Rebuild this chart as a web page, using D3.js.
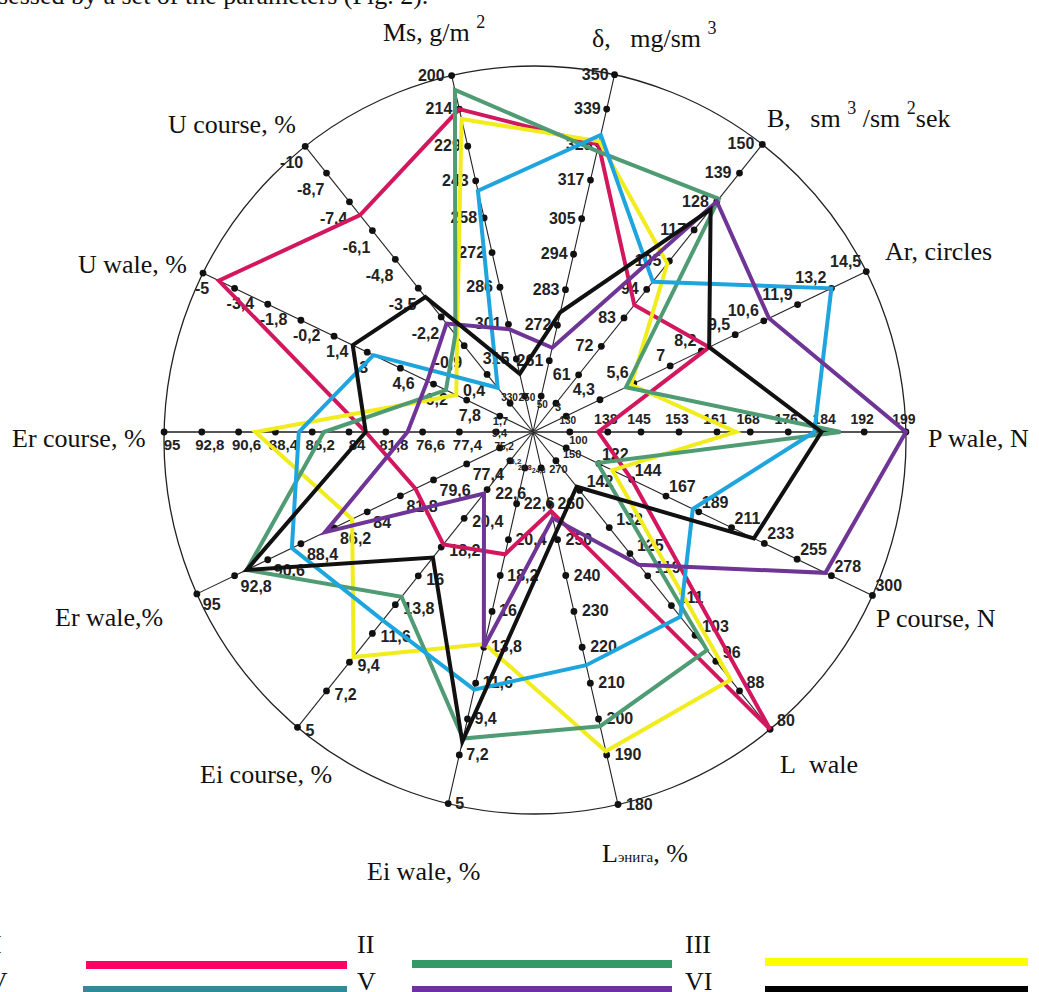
<!DOCTYPE html>
<html>
<head>
<meta charset="utf-8">
<script src="https://cdn.jsdelivr.net/npm/d3@7"></script>
<style>
  body { margin: 0; background: #fff; }
  svg { display: block; }
  .tick-label { font-family: "Liberation Sans", Arial, sans-serif; font-weight: bold; fill: #222; }
  .title { font-family: "Liberation Serif", "Times New Roman", serif; fill: #111; white-space: pre; }
</style>
</head>
<body>
<div id="chart"></div>
<script>
(function () {

  // axes, clockwise from Ms
  var axisNames = ["Ms", "delta", "B", "Ar", "P wale", "P course", "L wale", "L enyga",
                   "Ei wale", "Ei course", "Er wale", "Er course", "U wale", "U course"]

  // tick labels, outer ring first, centre last
  var ticksMs = ["200", "214", "229", "243", "258", "272", "286", "301", "315", "330"]
  var ticksDelta = ["350", "339", "328", "317", "305", "294", "283", "272", "261", "250"]
  var ticksB = ["150", "139", "128", "117", "105", "94", "83", "72", "61", "50"]
  var ticksAr = ["14,5", "13,2", "11,9", "10,6", "9,5", "8,2", "7", "5,6", "4,3", "3"]
  var ticksPwale = ["199", "192", "184", "176", "168", "161", "153", "145", "138", "130"]
  var ticksPcourse = ["300", "278", "255", "233", "211", "189", "167", "144", "122", "100"]
  var ticksLwale = ["80", "88", "96", "103", "111", "119", "125", "132", "142", "150"]
  var ticksLenyga = ["180", "190", "200", "210", "220", "230", "240", "250", "260", "270"]
  var ticksEiwale = ["5", "7,2", "9,4", "11,6", "13,8", "16", "18,2", "20,4", "22,6", "24,8"]
  var ticksEicourse = ["5", "7,2", "9,4", "11,6", "13,8", "16", "18,2", "20,4", "22,6", "24,8"]
  var ticksErwale = ["95", "92,8", "90,6", "88,4", "86,2", "84", "81,8", "79,6", "77,4", "75,2"]
  var ticksErcourse = ["95", "92,8", "90,6", "88,4", "86,2", "84", "81,8", "76,6", "77,4", "75,2"]
  var ticksUwale = ["-5", "-3,4", "-1,8", "-0,2", "1,4", "3", "4,6", "6,2", "7,8", "9,4"]
  var ticksUcourse = ["-10", "-8,7", "-7,4", "-6,1", "-4,8", "-3,5", "-2,2", "-0,9", "0,4", "1,7"]

  // scale ends per axis: [centre-most tick, second tick, outer tick]
  var scaleStops = [
    [330, 214, 200], [250, 339, 350], [50, 139, 150], [3, 13.2, 14.5],
    [130, 192, 199], [100, 278, 300], [150, 88, 80], [270, 190, 180],
    [24.8, 7.2, 5], [24.8, 7.2, 5], [75.2, 92.8, 95], [75.2, 92.8, 95],
    [9.4, -3.4, -5], [1.7, -8.7, -10]
  ]

  var seriesNames = ["I", "II", "III", "IV", "V", "VI"]
  var series1 = [214, 328, 88, 8.5, 136, 144, 80, 258, 19.5, 18.4, 80.8, 83, -4.2, -6.8]
  var series2 = [206, 326, 129, 5.3, 187, 121, 99, 198, 8.2, 14.4, 92, 85.5, 6.8, -1.4]
  var series3 = [218, 329, 104, 5.5, 165, 131, 91, 191, 14, 9.8, 85, 89.6, 7.3, -1.3]
  var series4 = [247, 331, 97, 13.2, 181.5, 185, 108, 215, 11.2, 12.6, 89, 87, 3.3, 1.0]
  var series5 = [303, 265, 128, 10.8, 199, 274, 122, 256, 13.8, 22.3, 86.8, 80.5, 5.9, -1.9]
  var series6 = [321, 276, 125, 8.5, 183, 226, 143, 252, 8.0, 17.4, 92, 83, 2.3, -3.1]

  var tickLists = [ticksMs, ticksDelta, ticksB, ticksAr, ticksPwale, ticksPcourse, ticksLwale,
                   ticksLenyga, ticksEiwale, ticksEicourse, ticksErwale, ticksErcourse, ticksUwale, ticksUcourse]
  var seriesValues = [series1, series2, series3, series4, series5, series6]

  var lineColors = ["#d3175e", "#4f9b74", "#f1ec1c", "#1fa5de", "#6e3496", "#111111"]
  var legendColors = ["#ff0066", "#339966", "#ffff00", "#338899", "#7030a0", "#000000"]
  var drawOrder = [0, 2, 1, 3, 4, 5]

  // ---- layout ----
  var width = 1039, height = 992
  var hub = [533, 432]
  var ring = { cx: 535, cy: 440, rx: 371, ry: 374 }
  var step = 36.8

  // label placement per axis: dx, dy, anchor, size, size of centre label
  var labelPos = [
    [-7, 5, "end", 16, 10], [-6, 5, "end", 16, 10], [-8, 5, "end", 16, 10], [-5, -5, "end", 16, 11],
    [-2, -8, "middle", 14, 10], [3, -4, "start", 16, 11], [7, -3, "start", 16, 11], [8, 5, "start", 16, 11],
    [7, 5, "start", 16, 7], [8, 9, "start", 16, 7], [6, 16, "start", 16, 8], [8, 18, "middle", 15, 10],
    [-8, 21, "start", 16, 11], [-2, 22, "end", 16, 11]
  ]

  var nb = "\u00a0"
  var titleParts = [
    [["Ms, g/m" + nb, "n"], ["2", "s"]],
    [["δ," + nb + nb + " mg/sm" + nb, "n"], ["3", "s"]],
    [["B," + nb + nb + " sm" + nb, "n"], ["3", "s"], [nb + "/sm" + nb, "n"], ["2", "s"], ["sek", "n"]],
    [["Ar, circles", "n"]],
    [["P wale, N", "n"]],
    [["P course, N", "n"]],
    [["L" + nb + nb + "wale", "n"]],
    [["L", "n"], ["энига", "m"], [", %", "n"]],
    [["Ei wale, %", "n"]],
    [["Ei course, %", "n"]],
    [["Er wale,%", "n"]],
    [["Er course, %", "n"]],
    [["U wale, %", "n"]],
    [["U course, %", "n"]]
  ]
  var titleXY = [[383, 41], [592, 47], [767, 127], [885, 260], [928, 447], [876, 627], [780, 773],
                 [602, 862], [367, 880], [200, 783], [55, 626], [12, 447], [78, 273], [168, 133]]

  var svg = d3.select("#chart").append("svg")
    .attr("width", width)
    .attr("height", height)

  // cut-off line of body text above the figure
  svg.append("text")
    .attr("class", "title")
    .attr("x", -2)
    .attr("y", 4)
    .attr("font-size", 26)
    .text("sessed by a set of the parameters (Fig. 2).")

  var angleScale = d3.scaleLinear()
    .domain([0, axisNames.length])
    .range([-Math.PI / axisNames.length, 2 * Math.PI - Math.PI / axisNames.length])

  // distance from hub to the outer ring along an angle
  function axisLength(a) {
    var ux = Math.sin(a), uy = -Math.cos(a)
    var dx = hub[0] - ring.cx, dy = hub[1] - ring.cy
    var rx2 = ring.rx * ring.rx, ry2 = ring.ry * ring.ry
    var A = ux * ux / rx2 + uy * uy / ry2
    var B = 2 * (dx * ux / rx2 + dy * uy / ry2)
    var C = dx * dx / rx2 + dy * dy / ry2 - 1
    return (-B + Math.sqrt(B * B - 4 * A * C)) / (2 * A)
  }

  var axes = axisNames.map(function (name, i) {
    var a = angleScale(i)
    var len = axisLength(a)
    var stops = scaleStops[i]
    return {
      name: name,
      angle: a,
      length: len,
      scale: d3.scaleLinear().domain(stops).range([step, 9 * step, len])
    }
  })

  svg.append("ellipse")
    .attr("cx", ring.cx)
    .attr("cy", ring.cy)
    .attr("rx", ring.rx)
    .attr("ry", ring.ry)
    .attr("fill", "none")
    .attr("stroke", "#222")
    .attr("stroke-width", 1.3)

  var g = svg.append("g")
    .attr("transform", "translate(" + hub[0] + "," + hub[1] + ")")

  function px(a, r) { return Math.sin(a) * r }
  function py(a, r) { return -Math.cos(a) * r }

  g.selectAll(".axis-line")
    .data(axes)
    .enter().append("line")
    .attr("class", "axis-line")
    .attr("x1", 0).attr("y1", 0)
    .attr("x2", function (d) { return px(d.angle, d.length) })
    .attr("y2", function (d) { return py(d.angle, d.length) })
    .attr("stroke", function (d, i) { return (i === 4 || i === 11) ? "#555" : "#222" })
    .attr("stroke-width", function (d, i) { return (i === 4 || i === 11) ? 2.2 : 1.1 })

  // ticks: dot + label
  axes.forEach(function (ax, i) {
    var ticks = tickLists[i].map(function (lab, k) {
      var v = parseFloat(lab.replace(",", "."))
      // the printed "76,6" sits at the 79,6 position
      var r = (k === 0) ? ax.length : ax.scale(k === 7 && i === 11 ? 79.6 : v)
      return { label: lab, k: k, x: px(ax.angle, r), y: py(ax.angle, r) }
    })
    var lp = labelPos[i]

    g.selectAll(".dot-" + i)
      .data(ticks)
      .enter().append("circle")
      .attr("class", "dot-" + i)
      .attr("cx", function (d) { return d.x })
      .attr("cy", function (d) { return d.y })
      .attr("r", 3.4)
      .attr("fill", "#111")

    g.selectAll(".lab-" + i)
      .data(ticks)
      .enter().append("text")
      .attr("class", "tick-label lab-" + i)
      .attr("x", function (d) { return d.x + lp[0] })
      .attr("y", function (d) { return d.y + lp[1] })
      .attr("text-anchor", lp[2])
      .attr("font-size", function (d) { return d.k === 9 ? lp[4] : lp[3] })
      .text(function (d) { return d.label })
  })

  // series polygons
  var radial = d3.lineRadial()
    .angle(function (d, i) { return axes[i].angle })
    .radius(function (d, i) { return axes[i].scale(d) })
    .curve(d3.curveLinearClosed)

  g.selectAll(".series")
    .data(drawOrder)
    .enter().append("path")
    .attr("class", "series")
    .attr("d", function (s) { return radial(seriesValues[s]) })
    .attr("fill", "none")
    .attr("stroke", function (s) { return lineColors[s] })
    .attr("stroke-width", 4)
    .attr("stroke-linejoin", "miter")

  // axis titles
  axes.forEach(function (ax, i) {
    var t = svg.append("text")
      .attr("class", "title")
      .attr("x", titleXY[i][0])
      .attr("y", titleXY[i][1])
      .attr("font-size", 26)
    var shift = 0
    titleParts[i].forEach(function (p) {
      var span = t.append("tspan").text(p[0])
      if (p[1] === "s") {
        span.attr("dy", -13 - shift).attr("font-size", 18)
        shift = -13
      } else if (p[1] === "m") {
        span.attr("dy", -shift).attr("font-size", 15)
        shift = 0
      } else {
        span.attr("dy", -shift)
        shift = 0
      }
    })
  })

  // legend
  var legendLabelX = [-7, 357, 685, -20, 357, 685]
  var legendLabelY = [953, 953, 953, 990, 990, 990]
  var legendLineX = [[86, 347], [412, 672], [765, 1028], [83, 347], [412, 672], [765, 1028]]
  var legendLineY = [965, 964, 962, 990, 990, 990]

  var legend = svg.append("g").attr("class", "legend")
  seriesNames.forEach(function (name, s) {
    legend.append("text")
      .attr("class", "title")
      .attr("x", legendLabelX[s])
      .attr("y", legendLabelY[s])
      .attr("font-size", 26)
      .text(name)
    legend.append("line")
      .attr("x1", legendLineX[s][0])
      .attr("x2", legendLineX[s][1])
      .attr("y1", legendLineY[s])
      .attr("y2", legendLineY[s])
      .attr("stroke", legendColors[s])
      .attr("stroke-width", 8)
  })

})()
</script>
</body>
</html>
